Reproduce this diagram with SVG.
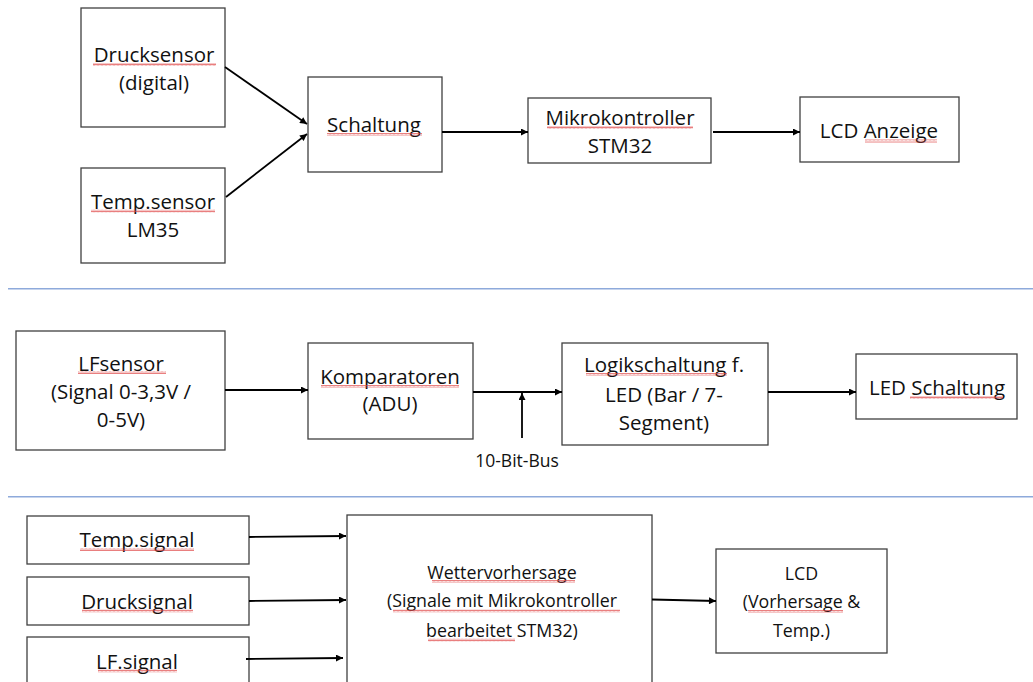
<svg xmlns="http://www.w3.org/2000/svg" width="1033" height="682" viewBox="0 0 1033 682">
<defs>
<marker id="ah" viewBox="0 0 10 10" refX="10" refY="5" markerWidth="9" markerHeight="7" markerUnits="userSpaceOnUse" orient="auto">
<path d="M0,0 L10,5 L0,10 z" fill="#000"/>
</marker>
<pattern id="wavy" width="4" height="3" patternUnits="userSpaceOnUse">
<path d="M0,2.5 L1,0.5 L2,2.5 L3,0.5 L4,2.5" stroke="#e04848" stroke-width="0.7" fill="none"/>
</pattern>
</defs>
<style>
.box{fill:#fff;stroke:#404040;stroke-width:1.3}
.t{font-family:"Open Sans","Liberation Sans",sans-serif;font-size:20.5px;fill:#111;text-anchor:middle}
.s{font-size:17.8px}
.lbl{font-family:"Open Sans","Liberation Sans",sans-serif;font-size:17.5px;fill:#111;text-anchor:middle}
.c{stroke:#000;stroke-width:1.8;fill:none;marker-end:url(#ah)}
.sep{stroke:#8eaadb;stroke-width:1.6}
.u{fill:url(#wavy)}
</style>
<rect width="1033" height="682" fill="#fff"/>
<g id="separators">
<line class="sep" x1="8" y1="288.7" x2="1033" y2="288.7"/>
<line class="sep" x1="8" y1="496.7" x2="1033" y2="496.7"/>
</g>
<g id="n-drucksensor">
<rect class="box" x="81" y="8" width="144" height="119"/>
<text class="t" x="154" y="62">Drucksensor</text>
<text class="t" x="154" y="90">(digital)</text>
<rect class="u" x="93" y="63" width="123" height="3"/>
</g>
<g id="n-tempsensor">
<rect class="box" x="81" y="168" width="144" height="95"/>
<text class="t" x="153" y="208.5">Temp.sensor</text>
<text class="t" x="153" y="236.5">LM35</text>
<rect class="u" x="91" y="209.5" width="124" height="3"/>
</g>
<g id="n-schaltung">
<rect class="box" x="308" y="77" width="134" height="95"/>
<text class="t" x="374" y="131.5">Schaltung</text>
<rect class="u" x="327" y="133" width="95" height="3"/>
</g>
<g id="n-mikro">
<rect class="box" x="528" y="98" width="183" height="65"/>
<text class="t" x="620" y="125">Mikrokontroller</text>
<text class="t" x="620" y="153.3">STM32</text>
<rect class="u" x="547" y="126" width="146" height="3"/>
</g>
<g id="n-lcdanzeige">
<rect class="box" x="800" y="97" width="159" height="65"/>
<text class="t" x="879" y="138.3">LCD Anzeige</text>
<rect class="u" x="865" y="139.5" width="72" height="3"/>
</g>
<g id="n-lfsensor">
<rect class="box" x="16" y="331" width="209" height="119"/>
<text class="t" x="121" y="370.5">LFsensor</text>
<text class="t" x="121" y="398.5">(Signal 0-3,3V /</text>
<text class="t" x="121" y="427">0-5V)</text>
<rect class="u" x="78" y="371" width="88" height="3"/>
</g>
<g id="n-komparatoren">
<rect class="box" x="308" y="343" width="165" height="96"/>
<text class="t" x="390" y="384">Komparatoren</text>
<text class="t" x="390" y="411">(ADU)</text>
<rect class="u" x="321" y="385" width="138" height="3"/>
</g>
<g id="n-logik">
<rect class="box" x="562" y="343" width="206" height="102"/>
<text class="t" x="664" y="371.7">Logikschaltung f.</text>
<text class="t" x="664" y="401.5">LED (Bar / 7-</text>
<text class="t" x="664" y="430">Segment)</text>
<rect class="u" x="586" y="373" width="141" height="3"/>
</g>
<g id="n-ledschaltung">
<rect class="box" x="856" y="354" width="161" height="65"/>
<text class="t" x="937" y="395">LED Schaltung</text>
<rect class="u" x="910" y="396" width="93" height="3"/>
</g>
<g id="n-bus">
<text class="lbl" x="517" y="467">10-Bit-Bus</text>
</g>
<g id="n-tempsignal">
<rect class="box" x="27" y="516" width="222" height="48"/>
<text class="t" x="137" y="547.3">Temp.signal</text>
<rect class="u" x="80" y="548" width="114" height="3"/>
</g>
<g id="n-drucksignal">
<rect class="box" x="27" y="577" width="222" height="48"/>
<text class="t" x="137" y="609">Drucksignal</text>
<rect class="u" x="82" y="609.5" width="111" height="3"/>
</g>
<g id="n-lfsignal">
<rect class="box" x="27" y="637" width="222" height="70"/>
<text class="t" x="137" y="669">LF.signal</text>
<rect class="u" x="98" y="669.5" width="79" height="3"/>
</g>
<g id="n-wetter">
<rect class="box" x="347" y="515" width="305" height="190"/>
<text class="t s" x="502" y="579">Wettervorhersage</text>
<text class="t s" x="502" y="607.3">(Signale mit Mikrokontroller</text>
<text class="t s" x="502" y="636.7">bearbeitet STM32)</text>
<rect class="u" x="432" y="580" width="143" height="3"/>
<rect class="u" x="393" y="609.5" width="227" height="3"/>
<rect class="u" x="428" y="638.5" width="87" height="3"/>
</g>
<g id="n-lcd">
<rect class="box" x="716" y="549" width="171" height="104"/>
<text class="t s" x="801.5" y="580">LCD</text>
<text class="t s" x="801.5" y="608.3">(Vorhersage &amp;</text>
<text class="t s" x="801.5" y="636.7">Temp.)</text>
<rect class="u" x="748" y="610" width="95" height="3"/>
</g>
<g id="connectors">
<line class="c" x1="225" y1="67" x2="307" y2="124"/>
<line class="c" x1="226" y1="197" x2="307" y2="134"/>
<line class="c" x1="442" y1="132" x2="528" y2="132"/>
<line class="c" x1="713" y1="132" x2="800" y2="132"/>
<line class="c" x1="225" y1="390" x2="308" y2="390"/>
<line class="c" x1="473" y1="392" x2="562" y2="392"/>
<line class="c" x1="522" y1="438" x2="522" y2="393"/>
<line class="c" x1="768" y1="392" x2="856" y2="392"/>
<line class="c" x1="249" y1="537" x2="346" y2="536"/>
<line class="c" x1="249" y1="601" x2="346" y2="600"/>
<line class="c" x1="246" y1="659" x2="343" y2="658"/>
<line class="c" x1="652" y1="599.5" x2="716" y2="601"/>
</g>
</svg>
